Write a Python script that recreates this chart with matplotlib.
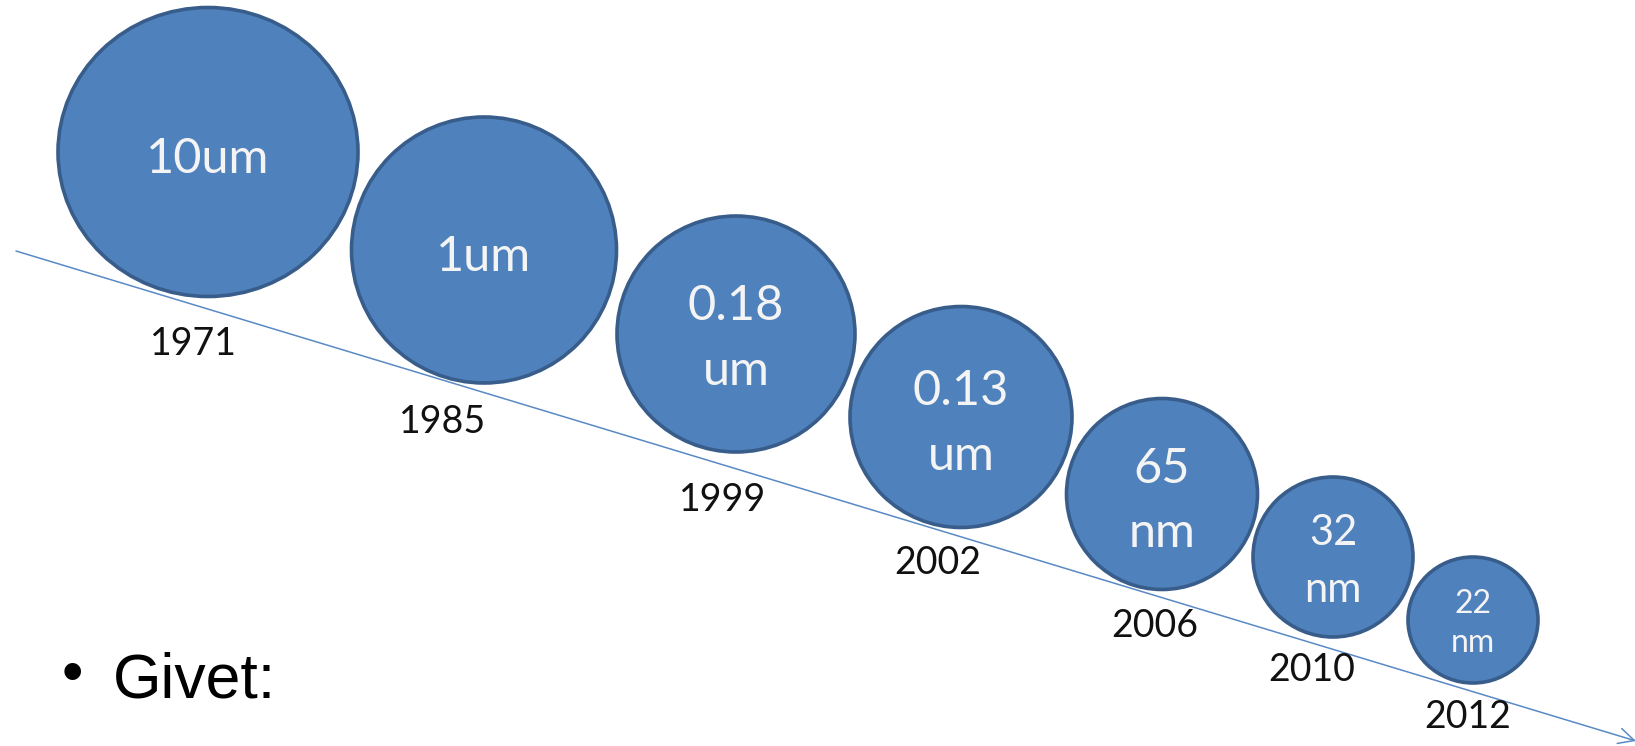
import matplotlib.pyplot as plt
from matplotlib.patches import Ellipse

# data
years = ["1971", "1985", "1999", "2002", "2006", "2010", "2012"]
node_top = ["10um", "1um", "0.18", "0.13", "65", "32", "22"]
node_bottom = ["", "", "um", "um", "nm", "nm", "nm"]

# layout in pixels (full image coords, y downwards)
cx = [208, 484, 736, 961, 1162, 1333, 1473]
cy = [152, 250, 334, 417, 494, 557, 620]
cw = [300, 265, 238, 222, 191, 160, 130]
ch = [289, 266, 236, 221, 191, 160, 126]
fs = [35, 35, 35, 35, 35, 30, 23]
base1 = [173, 271, 320, 405, 483, 545, 613]
base2 = [0, 0, 385, 470, 547, 602, 652]
yx = [193, 443, 723, 938, 1155, 1312, 1468]
yy = [344, 422, 500, 563, 626, 670, 717]

W, H = 1635, 746
fig = plt.figure(figsize=(W / 100, H / 100), dpi=100)
ax = fig.add_axes([0, 0, 1, 1])
ax.set_xlim(0, W)
ax.set_ylim(H, 0)
ax.axis('off')

# timeline arrow
ax.annotate('', xy=(1636, 741), xytext=(16, 251), annotation_clip=False,
            arrowprops=dict(arrowstyle='->', color='#5a8ac6', lw=1.1,
                            mutation_scale=28, shrinkA=0, shrinkB=0))

for i in range(len(years)):
    ax.add_patch(Ellipse((cx[i], cy[i]), cw[i], ch[i], facecolor='#4f81bd',
                         edgecolor='#385d8a', lw=2.6, zorder=3))
    ax.text(cx[i], base1[i], node_top[i], ha='center', va='baseline',
            color='#f4f4f4', fontsize=fs[i], family='Lato', zorder=4)
    if node_bottom[i]:
        ax.text(cx[i], base2[i], node_bottom[i], ha='center', va='baseline',
                color='#f4f4f4', fontsize=fs[i], family='Lato', zorder=4)
    ax.text(yx[i], yy[i], years[i], ha='center', va='center',
            color='#111111', fontsize=27, family='Lato')

ax.text(72, 677, '•', ha='center', va='center', fontsize=44,
        family='Liberation Sans', color='black')
ax.text(113, 698, 'Givet:', ha='left', va='baseline', fontsize=45,
        family='Liberation Sans', color='black')

fig.savefig('out.png', dpi=100)
